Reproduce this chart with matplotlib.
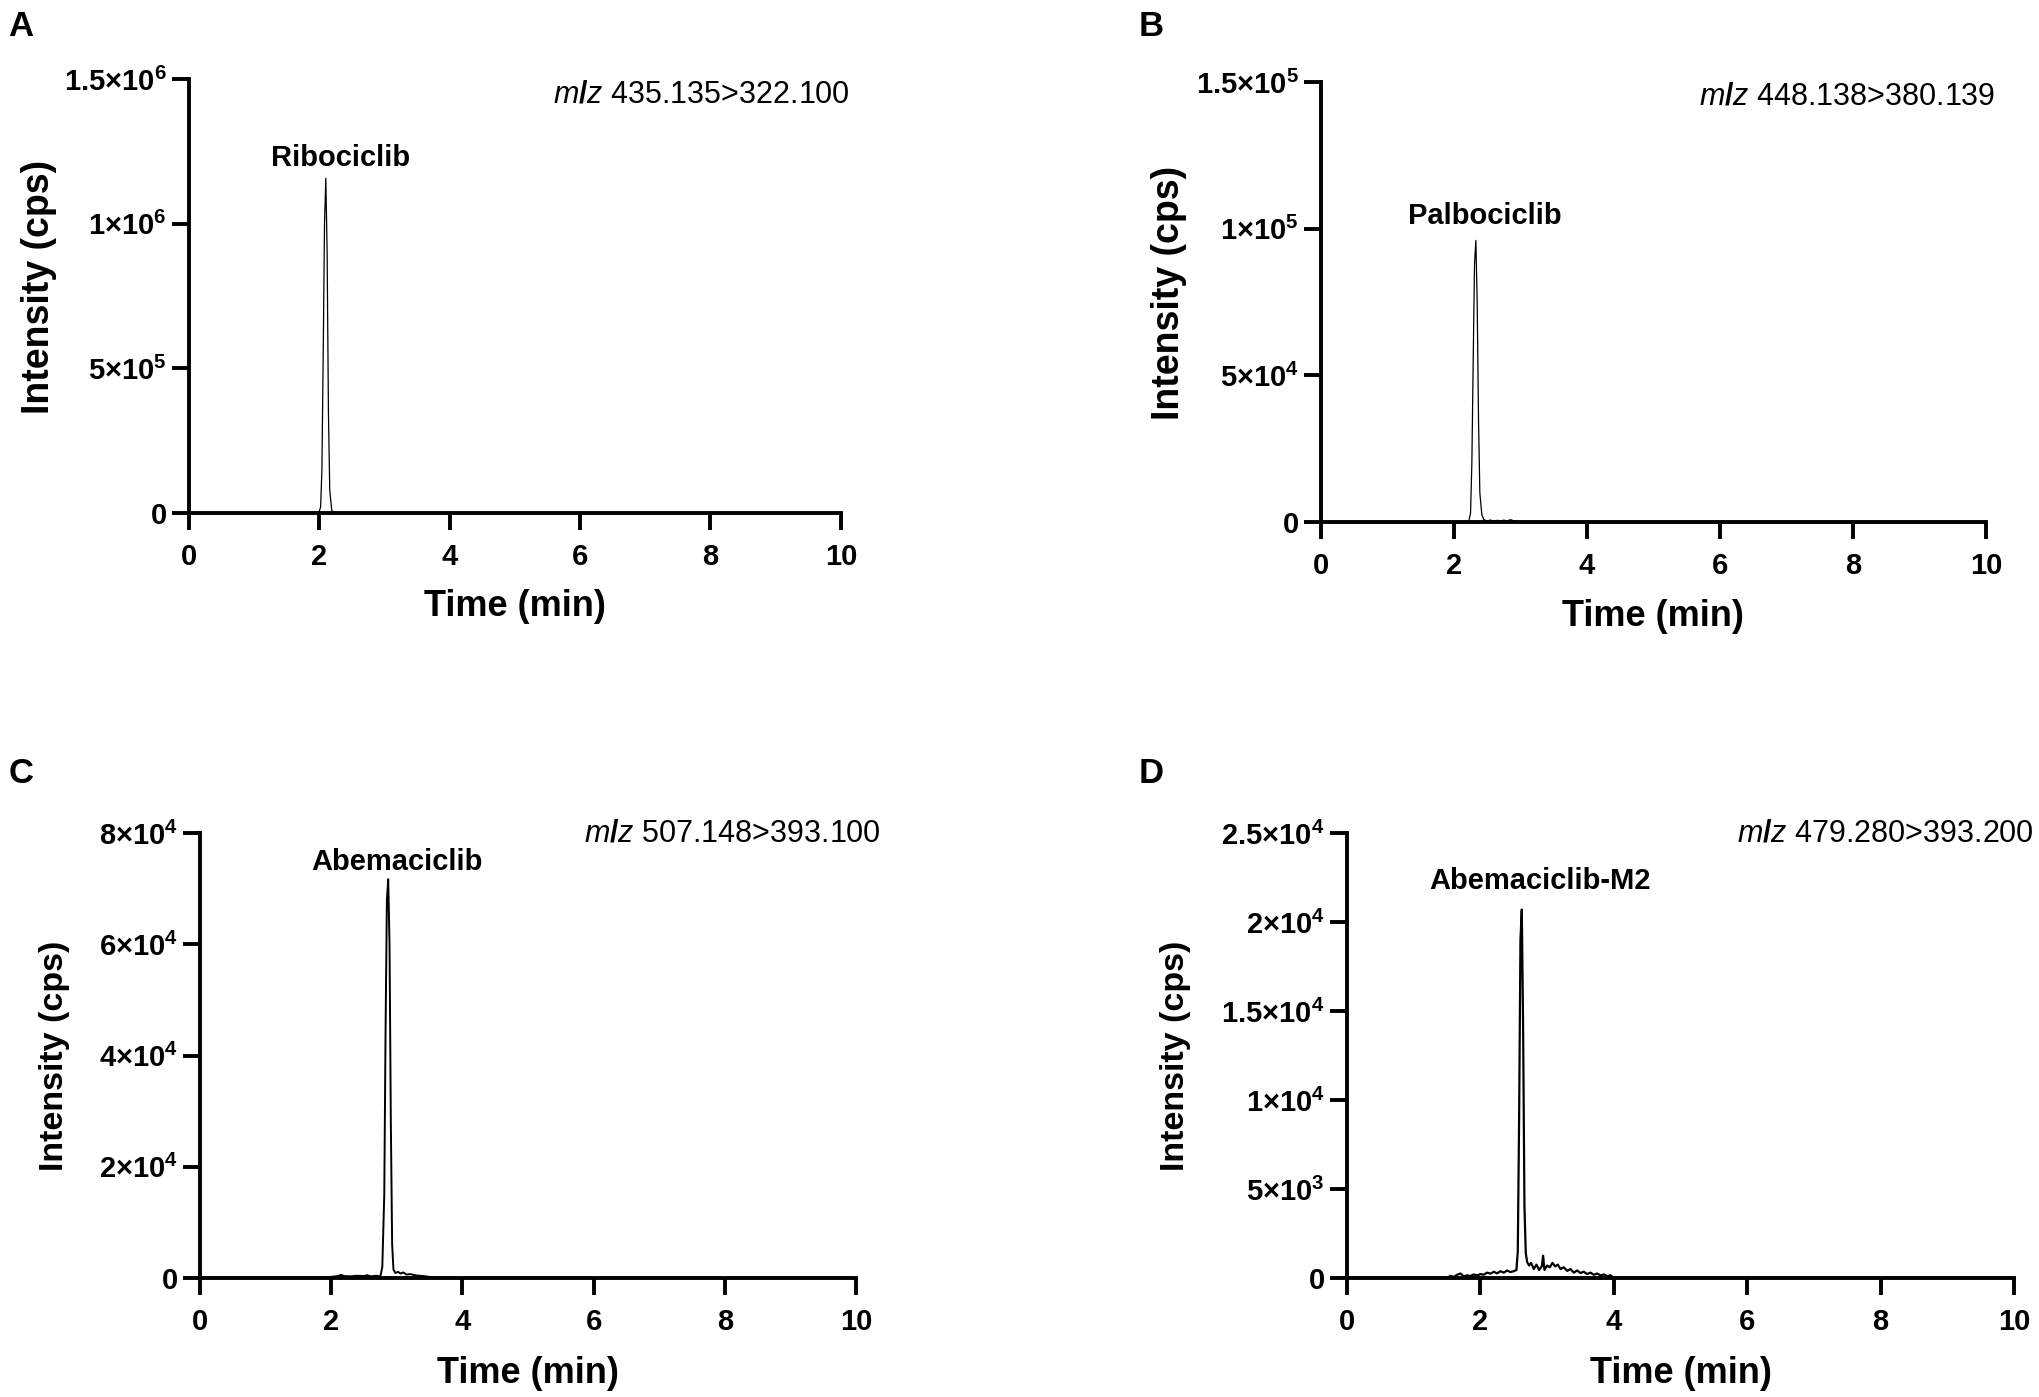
import matplotlib.pyplot as plt
import numpy as np

# Cromatogramas MRM de los cuatro analitos (tiempo en min, intensidad en cps)

plt.rcParams['font.family'] = ['Liberation Sans', 'DejaVu Sans']
plt.rcParams['mathtext.fontset'] = 'custom'
plt.rcParams['mathtext.rm'] = 'Liberation Sans:bold'
plt.rcParams['mathtext.it'] = 'Liberation Sans:italic'
plt.rcParams['mathtext.default'] = 'rm'

# --- datos: (tiempo, intensidad) ---
ribo_pts = [(0, 0), (1.99, 0), (2.02, 2e4), (2.04, 1.5e5), (2.06, 5.5e5),
            (2.08, 1.0e6), (2.10, 1.157e6), (2.12, 9.0e5), (2.14, 3.5e5),
            (2.16, 8e4), (2.19, 1e4), (2.22, 0), (10, 0)]

palbo_pts = [(0, 0), (2.22, 0), (2.25, 3e3), (2.27, 2.0e4), (2.29, 5.5e4),
             (2.31, 8.8e4), (2.33, 9.6e4), (2.35, 7.5e4), (2.37, 3.5e4),
             (2.39, 1.0e4), (2.42, 2.5e3), (2.45, 800), (2.5, 400), (2.55, 700),
             (2.6, 300), (2.65, 600), (2.7, 350), (2.75, 650), (2.8, 400),
             (2.85, 800), (2.9, 450), (2.95, 300), (3.0, 0), (10, 0)]

abema_pts = [(0, 0), (1.8, 0), (1.9, 100), (2.0, 200), (2.1, 350), (2.15, 550),
             (2.2, 350), (2.3, 300), (2.4, 400), (2.5, 350), (2.55, 500),
             (2.6, 300), (2.7, 400), (2.75, 250), (2.78, 2000), (2.81, 15000),
             (2.83, 45000), (2.85, 68000), (2.87, 71700), (2.89, 60000),
             (2.91, 28000), (2.93, 6000), (2.95, 1500), (2.98, 900), (3.02, 1100),
             (3.06, 800), (3.1, 1000), (3.15, 600), (3.2, 700), (3.3, 450),
             (3.4, 350), (3.5, 200), (3.58, 0), (10, 0)]

m2_pts = [(0, 0), (1.5, 0), (1.55, 120), (1.6, 60), (1.65, 180), (1.7, 250),
          (1.75, 90), (1.8, 150), (1.85, 110), (1.9, 200), (1.95, 140),
          (2.0, 220), (2.05, 180), (2.1, 300), (2.15, 240), (2.2, 350),
          (2.25, 260), (2.3, 380), (2.35, 300), (2.4, 420), (2.45, 330),
          (2.5, 380), (2.54, 450), (2.56, 1500), (2.58, 9000), (2.6, 19000),
          (2.62, 20700), (2.64, 14000), (2.66, 4000), (2.68, 1400), (2.7, 900),
          (2.73, 700), (2.76, 850), (2.8, 500), (2.84, 750), (2.88, 450),
          (2.92, 650), (2.94, 1250), (2.96, 450), (3.0, 700), (3.04, 600),
          (3.08, 850), (3.12, 650), (3.16, 750), (3.2, 500), (3.25, 600),
          (3.3, 400), (3.35, 500), (3.4, 300), (3.45, 420), (3.5, 280),
          (3.55, 350), (3.6, 220), (3.65, 300), (3.7, 180), (3.75, 250),
          (3.8, 140), (3.85, 200), (3.9, 100), (3.95, 150), (4.0, 0), (10, 0)]

# ticks del eje y y sus etiquetas
ribo_yticks = [0, 5e5, 1e6, 1.5e6]
ribo_ylabels = ['0', r'5×10$^{5}$', r'1×10$^{6}$', r'1.5×10$^{6}$']
palbo_yticks = [0, 5e4, 1e5, 1.5e5]
palbo_ylabels = ['0', r'5×10$^{4}$', r'1×10$^{5}$', r'1.5×10$^{5}$']
abema_yticks = [0, 2e4, 4e4, 6e4, 8e4]
abema_ylabels = ['0', r'2×10$^{4}$', r'4×10$^{4}$', r'6×10$^{4}$', r'8×10$^{4}$']
m2_yticks = [0, 5e3, 1e4, 1.5e4, 2e4, 2.5e4]
m2_ylabels = ['0', r'5×10$^{3}$', r'1×10$^{4}$', r'1.5×10$^{4}$',
              r'2×10$^{4}$', r'2.5×10$^{4}$']
xticks = [0, 2, 4, 6, 8, 10]

names = ['Ribociclib', 'Palbociclib', 'Abemaciclib', 'Abemaciclib-M2']
transitions = ['435.135>322.100', '448.138>380.139',
               '507.148>393.100', '479.280>393.200']
letters = ['A', 'B', 'C', 'D']
# posicion de la etiqueta del pico (min, cps)
name_pos = [(2.33, 1.226e6), (2.46, 1.043e5), (3.0, 7.48e4), (2.9, 2.23e4)]

panels = [
    (ribo_pts, ribo_yticks, ribo_ylabels),
    (palbo_pts, palbo_yticks, palbo_ylabels),
    (abema_pts, abema_yticks, abema_ylabels),
    (m2_pts, m2_yticks, m2_ylabels),
]

# geometria de cada panel [left, bottom, width, height] en fraccion de figura
boxes = [[0.0926, 0.6328, 0.3196, 0.3107],
         [0.6475, 0.6263, 0.3260, 0.3150],
         [0.0980, 0.0852, 0.3216, 0.3185],
         [0.6603, 0.0852, 0.3270, 0.3185]]
line_w = [0.9, 0.9, 1.4, 1.6]
mz_xy = [(1.014, 0.963), (1.014, 0.968), (1.038, 1.0), (1.03, 1.0)]
ylab_xy = [(-0.202, 0.52), (-0.2015, 0.52), (-0.198, 0.5), (-0.234, 0.5)]
ylab_size = [27, 27, 24.5, 24.5]
letter_xy = [(0.004, 0.981), (0.558, 0.981), (0.004, 0.446), (0.558, 0.446)]

fig = plt.figure(figsize=(20.40, 13.97), dpi=100)

for i, (pts, yt, yl) in enumerate(panels):
    ax = fig.add_axes(boxes[i])
    t, y = np.array(pts).T
    ax.plot(t, y, color='black', lw=line_w[i])

    ax.set_xlim(0, 10)
    ax.set_ylim(0, yt[-1])
    ax.set_xticks(xticks)
    ax.set_yticks(yt)
    ax.set_yticklabels(yl)
    for s in ['top', 'right']:
        ax.spines[s].set_visible(False)
    for s in ['left', 'bottom']:
        ax.spines[s].set_linewidth(2.8)
    ax.tick_params(width=2.8, length=12.5, labelsize=21)
    ax.tick_params(axis='x', pad=9)
    ax.tick_params(axis='y', pad=3.5)
    for lab in ax.get_xticklabels() + ax.get_yticklabels():
        lab.set_fontweight('bold')

    ax.set_xlabel('Time (min)', fontsize=26, fontweight='bold')
    ax.xaxis.set_label_coords(0.5, -0.175)
    ax.set_ylabel('Intensity (cps)', fontsize=ylab_size[i], fontweight='bold')
    ax.yaxis.set_label_coords(*ylab_xy[i])

    ax.text(name_pos[i][0], name_pos[i][1], names[i], fontsize=21,
            fontweight='bold', ha='center', va='center')
    ax.text(mz_xy[i][0], mz_xy[i][1], r'$\it{m/z}$ ' + transitions[i],
            fontsize=22, ha='right', va='center', transform=ax.transAxes)

    fig.text(letter_xy[i][0], letter_xy[i][1], letters[i], fontsize=25,
             fontweight='bold', ha='left', va='center')

fig.savefig('out.png', dpi=100)
